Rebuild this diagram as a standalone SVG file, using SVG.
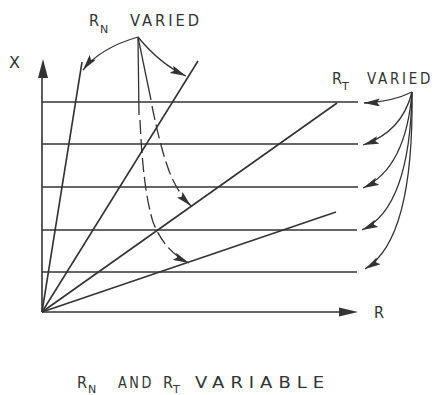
<svg xmlns="http://www.w3.org/2000/svg" width="439" height="395" viewBox="0 0 439 395">
<style>
.ln{stroke:#333;stroke-width:1.6;fill:none}
.cv{stroke:#333;stroke-width:1.3;fill:none}
.ds{stroke:#333;stroke-width:1.3;fill:none;stroke-dasharray:14 5}
.t{font-family:"DejaVu Sans","Liberation Sans",Arial,sans-serif;fill:#333;font-size:15px}
.w{letter-spacing:3px}
.ww{letter-spacing:5px}
.s{font-size:11px}
</style>
<defs>
<marker id="ah" viewBox="0 0 16 8" refX="16" refY="4" markerWidth="16" markerHeight="8" markerUnits="userSpaceOnUse" orient="auto">
<path d="M0,0 L16,4 L0,8 L3,4 Z" fill="#333"/>
</marker>
</defs>
<rect width="439" height="395" fill="#fff"/>
<g id="axes">
<line class="ln" x1="42" y1="312" x2="42" y2="75"/>
<path d="M43,59 L38,78 L48,78 Z" fill="#333"/>
<line class="ln" x1="42" y1="312" x2="342" y2="312"/>
<path d="M358,312 L339,307.5 L339,316.5 Z" fill="#333"/>
</g>
<g id="grid">
<line class="ln" x1="42" y1="102" x2="358" y2="102"/>
<line class="ln" x1="42" y1="144" x2="358" y2="144"/>
<line class="ln" x1="42" y1="187" x2="358" y2="187"/>
<line class="ln" x1="42" y1="230" x2="357" y2="230"/>
<line class="ln" x1="42" y1="272" x2="357" y2="272"/>
</g>
<g id="rays">
<line class="ln" x1="42" y1="312" x2="82" y2="62"/>
<line class="ln" x1="42" y1="312" x2="198" y2="61"/>
<line class="ln" x1="42" y1="312" x2="337" y2="103"/>
<line class="ln" x1="42" y1="312" x2="336" y2="212"/>
</g>
<g id="labels">
<text class="t" x="9" y="68" textLength="11" lengthAdjust="spacingAndGlyphs">X</text>
<text class="t" x="374" y="318" textLength="10" lengthAdjust="spacingAndGlyphs">R</text>
<text class="t" x="89" y="26" textLength="10" lengthAdjust="spacingAndGlyphs">R</text>
<text class="t s" x="100" y="33">N</text>
<text class="t w" x="130" y="26" textLength="72" lengthAdjust="spacingAndGlyphs">VARIED</text>
<text class="t" x="332" y="84" textLength="10" lengthAdjust="spacingAndGlyphs">R</text>
<text class="t s" x="342" y="90">T</text>
<text class="t w" x="367" y="84" textLength="66" lengthAdjust="spacingAndGlyphs">VARIED</text>
<text class="t" x="77" y="388" textLength="10" lengthAdjust="spacingAndGlyphs">R</text>
<text class="t s" x="88" y="393">N</text>
<text class="t w" x="118" y="388" textLength="36" lengthAdjust="spacingAndGlyphs">AND</text>
<text class="t" x="163" y="388" textLength="10" lengthAdjust="spacingAndGlyphs">R</text>
<text class="t s" x="173" y="393">T</text>
<text class="t ww" x="195" y="388" textLength="135" lengthAdjust="spacingAndGlyphs">VARIABLE</text>
</g>
<g id="connectors">
<path class="cv" d="M138,37 Q100,48 83,70" marker-end="url(#ah)"/>
<path class="cv" d="M138,37 Q160,64 186,76" marker-end="url(#ah)"/>
<path class="cv" d="M138,37 L151,100"/>
<path class="ds" d="M152,106 Q160,145 167,165 Q175,190 191,206" marker-end="url(#ah)"/>
<path class="cv" d="M138,37 L139,115"/>
<path class="ds" d="M140,120 Q143,190 153,222 Q165,252 189,263" marker-end="url(#ah)"/>
<path class="cv" d="M412,92 Q392,102 364,103" marker-end="url(#ah)"/>
<path class="cv" d="M412,92 Q402,132 363,145" marker-end="url(#ah)"/>
<path class="cv" d="M412,92 Q406,168 363,188" marker-end="url(#ah)"/>
<path class="cv" d="M412,92 Q410,208 362,230" marker-end="url(#ah)"/>
<path class="cv" d="M412,92 Q414,240 365,269" marker-end="url(#ah)"/>
</g>
</svg>
